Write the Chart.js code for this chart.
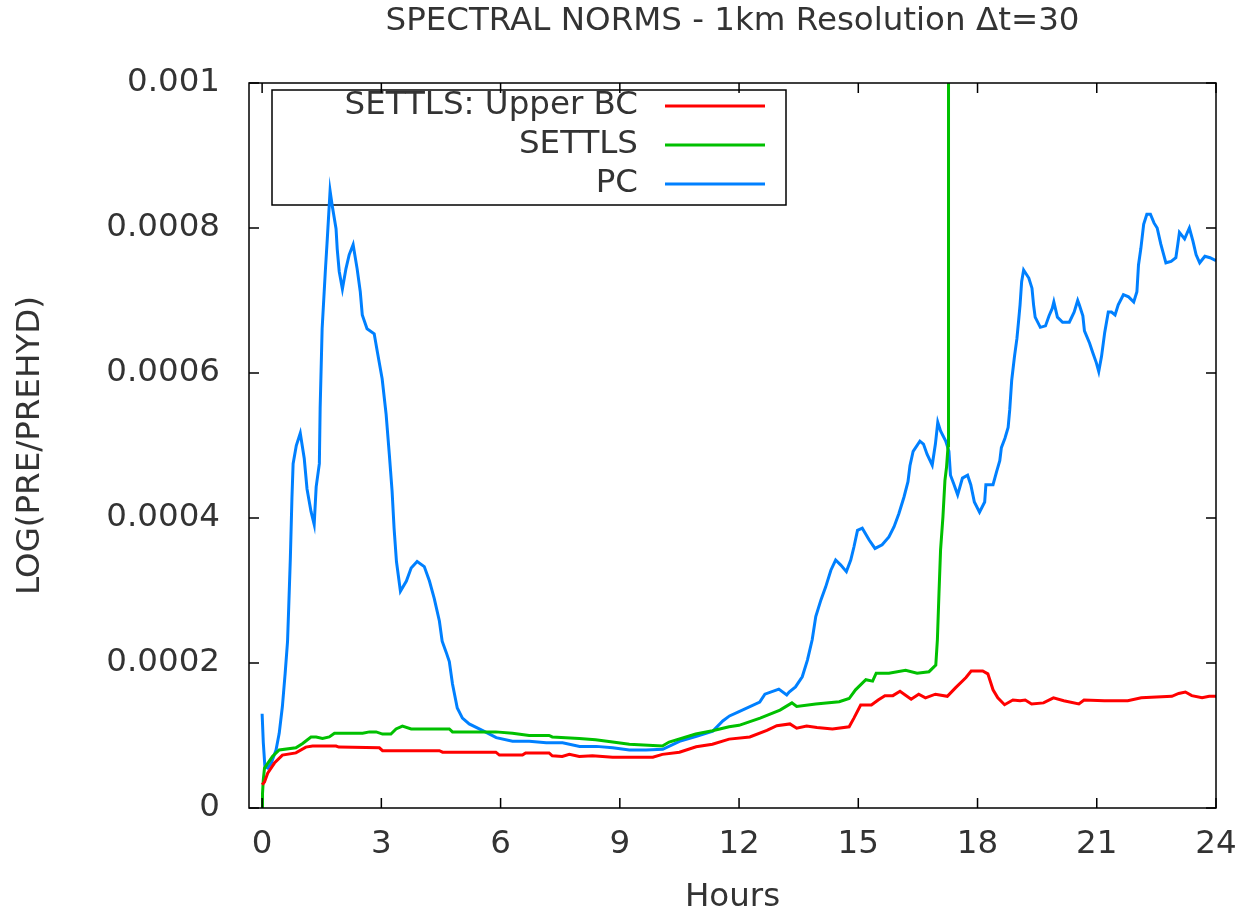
<!DOCTYPE html>
<html>
<head>
<meta charset="utf-8">
<script src="https://cdn.jsdelivr.net/npm/chart.js@4/dist/chart.umd.min.js"></script>
<style>
html,body{margin:0;padding:0;background:#fff;}
#wrap{width:1239px;height:914px;}
</style>
</head>
<body>
<div id="wrap"><canvas id="c" width="1239" height="914"></canvas></div>
<script>
// ---------------- DATA ----------------
const titleText = 'SPECTRAL NORMS - 1km Resolution \u0394t=30';
const xTitle = 'Hours';
const yTitle = 'LOG(PRE/PREHYD)';
const xTicks = [0, 3, 6, 9, 12, 15, 18, 21, 24];
const yTicks = [0, 0.0002, 0.0004, 0.0006, 0.0008, 0.001];
const yTickLabels = ['0', '0.0002', '0.0004', '0.0006', '0.0008', '0.001'];
const seriesNames = ['SETTLS: Upper BC', 'SETTLS', 'PC'];

const upperHours = [0.0,0.06,0.14,0.31,0.51,0.85,1.1,1.27,1.86,1.93,2.95,3.03,4.46,4.54,5.88,5.97,6.55,6.63,7.22,7.3,7.55,7.73,7.98,8.31,8.82,9.83,10.07,10.5,10.92,11.33,11.75,12.27,12.7,12.95,13.28,13.45,13.7,13.96,14.35,14.77,14.89,15.06,15.33,15.5,15.67,15.87,16.05,16.18,16.33,16.52,16.69,16.94,17.24,17.45,17.71,17.84,18.13,18.26,18.39,18.51,18.68,18.89,19.07,19.2,19.36,19.66,19.91,20.17,20.55,20.68,21.19,21.61,21.78,22.12,22.89,23.06,23.23,23.39,23.65,23.83,24.0];
const upperValues = [3.2e-5,3.6e-5,4.8e-5,6.2e-5,7.3e-5,7.6e-5,8.4e-5,8.55e-5,8.55e-5,8.4e-5,8.3e-5,7.9e-5,7.9e-5,7.7e-5,7.7e-5,7.3e-5,7.3e-5,7.6e-5,7.6e-5,7.2e-5,7.1e-5,7.4e-5,7.1e-5,7.2e-5,7.0e-5,7.0e-5,7.4e-5,7.7e-5,8.45e-5,8.8e-5,9.5e-5,9.8e-5,1.07e-4,1.135e-4,1.16e-4,1.10e-4,1.13e-4,1.11e-4,1.09e-4,1.12e-4,1.24e-4,1.42e-4,1.42e-4,1.49e-4,1.55e-4,1.55e-4,1.61e-4,1.56e-4,1.50e-4,1.57e-4,1.52e-4,1.57e-4,1.54e-4,1.66e-4,1.80e-4,1.89e-4,1.89e-4,1.85e-4,1.63e-4,1.52e-4,1.425e-4,1.49e-4,1.48e-4,1.49e-4,1.435e-4,1.45e-4,1.52e-4,1.48e-4,1.435e-4,1.49e-4,1.48e-4,1.48e-4,1.48e-4,1.52e-4,1.54e-4,1.58e-4,1.60e-4,1.55e-4,1.52e-4,1.54e-4,1.54e-4];

const settlsHours = [0.0,0.01,0.03,0.06,0.26,0.43,0.85,1.02,1.23,1.36,1.52,1.69,1.82,2.53,2.7,2.87,3.03,3.24,3.37,3.53,3.75,4.71,4.79,5.88,6.3,6.72,7.22,7.3,7.98,8.39,8.82,9.24,10.07,10.24,10.91,11.33,11.75,12.0,12.53,13.03,13.33,13.45,13.93,14.52,14.77,14.93,15.19,15.36,15.45,15.77,16.19,16.48,16.78,16.95,16.99,17.03,17.07,17.13,17.18,17.22,17.26,17.27];
const settlsValues = [0.0,2.0e-5,3.9e-5,5.5e-5,7.1e-5,8.0e-5,8.3e-5,8.9e-5,9.8e-5,9.8e-5,9.6e-5,9.8e-5,1.03e-4,1.03e-4,1.05e-4,1.05e-4,1.02e-4,1.02e-4,1.09e-4,1.13e-4,1.09e-4,1.09e-4,1.05e-4,1.05e-4,1.03e-4,1.0e-4,1.0e-4,9.8e-5,9.6e-5,9.4e-5,9.1e-5,8.8e-5,8.55e-5,9.1e-5,1.02e-4,1.065e-4,1.12e-4,1.14e-4,1.24e-4,1.35e-4,1.45e-4,1.40e-4,1.435e-4,1.466e-4,1.51e-4,1.63e-4,1.77e-4,1.75e-4,1.86e-4,1.86e-4,1.90e-4,1.86e-4,1.88e-4,1.97e-4,2.32e-4,2.96e-4,3.56e-4,4.02e-4,4.52e-4,4.70e-4,5.0e-4,1.5e-3];

const pcHours = [0.0,0.03,0.07,0.14,0.23,0.35,0.43,0.51,0.58,0.64,0.67,0.71,0.75,0.78,0.86,0.96,1.06,1.13,1.23,1.31,1.36,1.44,1.46,1.51,1.59,1.64,1.71,1.76,1.86,1.89,1.94,2.02,2.11,2.19,2.29,2.39,2.47,2.52,2.64,2.82,2.9,3.02,3.12,3.2,3.27,3.32,3.38,3.48,3.63,3.75,3.9,4.08,4.21,4.33,4.46,4.53,4.63,4.71,4.79,4.91,5.04,5.21,5.54,5.89,6.3,6.72,7.15,7.56,7.99,8.41,8.82,9.24,9.66,10.08,10.5,10.93,11.34,11.59,11.76,12.0,12.52,12.65,12.95,13.0,13.2,13.26,13.42,13.59,13.72,13.84,13.93,14.06,14.18,14.31,14.43,14.56,14.7,14.81,14.89,14.98,15.1,15.27,15.42,15.6,15.77,15.9,16.02,16.15,16.25,16.3,16.38,16.55,16.64,16.73,16.86,16.94,17.0,17.07,17.2,17.28,17.32,17.41,17.5,17.62,17.75,17.83,17.92,18.05,18.18,18.21,18.39,18.48,18.56,18.6,18.69,18.77,18.81,18.86,18.93,18.99,19.03,19.07,19.11,19.16,19.29,19.37,19.41,19.45,19.58,19.71,19.8,19.88,19.92,20.01,20.14,20.31,20.43,20.52,20.56,20.65,20.69,20.82,20.9,20.99,21.05,21.12,21.2,21.29,21.37,21.46,21.54,21.67,21.8,21.93,22.01,22.05,22.11,22.18,22.26,22.35,22.44,22.52,22.61,22.69,22.74,22.87,22.99,23.04,23.08,23.21,23.33,23.42,23.5,23.59,23.72,23.85,24.0];
const pcValues = [1.3e-4,9.0e-5,5.7e-5,5.5e-5,6.2e-5,8.0e-5,1.03e-4,1.40e-4,1.86e-4,2.30e-4,2.78e-4,3.44e-4,4.27e-4,4.75e-4,5.0e-4,5.17e-4,4.82e-4,4.40e-4,4.09e-4,3.91e-4,4.43e-4,4.75e-4,5.51e-4,6.61e-4,7.40e-4,7.85e-4,8.51e-4,8.32e-4,7.99e-4,7.71e-4,7.40e-4,7.16e-4,7.44e-4,7.63e-4,7.77e-4,7.44e-4,7.12e-4,6.80e-4,6.61e-4,6.54e-4,6.29e-4,5.92e-4,5.43e-4,4.88e-4,4.37e-4,3.86e-4,3.40e-4,2.99e-4,3.13e-4,3.31e-4,3.40e-4,3.33e-4,3.13e-4,2.89e-4,2.58e-4,2.30e-4,2.15e-4,2.02e-4,1.71e-4,1.38e-4,1.24e-4,1.16e-4,1.07e-4,9.7e-5,9.2e-5,9.2e-5,9.0e-5,9.0e-5,8.5e-5,8.5e-5,8.3e-5,8.0e-5,8.0e-5,8.1e-5,9.2e-5,9.9e-5,1.06e-4,1.20e-4,1.27e-4,1.33e-4,1.46e-4,1.57e-4,1.63e-4,1.64e-4,1.56e-4,1.60e-4,1.67e-4,1.81e-4,2.04e-4,2.32e-4,2.64e-4,2.87e-4,3.05e-4,3.28e-4,3.42e-4,3.35e-4,3.26e-4,3.42e-4,3.60e-4,3.83e-4,3.86e-4,3.70e-4,3.58e-4,3.63e-4,3.74e-4,3.88e-4,4.06e-4,4.29e-4,4.50e-4,4.72e-4,4.92e-4,5.06e-4,5.02e-4,4.88e-4,4.73e-4,5.02e-4,5.32e-4,5.20e-4,5.06e-4,4.92e-4,4.59e-4,4.46e-4,4.32e-4,4.55e-4,4.59e-4,4.46e-4,4.22e-4,4.08e-4,4.22e-4,4.46e-4,4.46e-4,4.64e-4,4.79e-4,4.97e-4,5.10e-4,5.25e-4,5.49e-4,5.90e-4,6.23e-4,6.47e-4,6.70e-4,6.94e-4,7.26e-4,7.42e-4,7.31e-4,7.17e-4,6.94e-4,6.77e-4,6.63e-4,6.65e-4,6.79e-4,6.89e-4,6.98e-4,6.77e-4,6.70e-4,6.70e-4,6.84e-4,7.00e-4,6.94e-4,6.79e-4,6.58e-4,6.41e-4,6.28e-4,6.14e-4,6.02e-4,6.23e-4,6.56e-4,6.84e-4,6.84e-4,6.80e-4,6.94e-4,7.08e-4,7.05e-4,6.98e-4,7.12e-4,7.49e-4,7.72e-4,8.05e-4,8.19e-4,8.19e-4,8.07e-4,8.00e-4,7.78e-4,7.62e-4,7.52e-4,7.54e-4,7.59e-4,7.78e-4,7.94e-4,7.85e-4,8.00e-4,7.82e-4,7.63e-4,7.52e-4,7.61e-4,7.59e-4,7.55e-4];

const seriesColors = ['#ff0000', '#00c000', '#0080ff'];

// ---------------- CHART ----------------
const FONT = 'DejaVu Sans';
const FS = 32.5;
const TEXT = '#333333';
const toPoints = (xs, ys) => xs.map((x, i) => ({x: x, y: ys[i]}));

const borderAndTicks = {
  id: 'borderAndTicks',
  afterDatasetsDraw(chart) {
    const {ctx, chartArea: a, scales} = chart;
    ctx.save();
    ctx.strokeStyle = '#000';
    ctx.lineWidth = 1.5;
    ctx.strokeRect(a.left, a.top, a.right - a.left, a.bottom - a.top);
    const L = 10;
    ctx.beginPath();
    xTicks.forEach(v => {
      const px = scales.x.getPixelForValue(v);
      ctx.moveTo(px, a.bottom); ctx.lineTo(px, a.bottom - L);
      ctx.moveTo(px, a.top); ctx.lineTo(px, a.top + L);
    });
    yTicks.forEach(v => {
      const py = scales.y.getPixelForValue(v);
      ctx.moveTo(a.left, py); ctx.lineTo(a.left + L, py);
      ctx.moveTo(a.right, py); ctx.lineTo(a.right - L, py);
    });
    ctx.stroke();
    ctx.restore();
  }
};

const plotTitle = {
  id: 'plotTitle',
  afterDraw(chart) {
    const {ctx, chartArea: a} = chart;
    ctx.save();
    ctx.font = FS + 'px "' + FONT + '"';
    ctx.fillStyle = TEXT;
    ctx.textAlign = 'center';
    ctx.textBaseline = 'middle';
    ctx.fillText(titleText, (a.left + a.right) / 2, 22);
    ctx.restore();
  }
};

const keyBox = {
  id: 'keyBox',
  beforeDatasetsDraw(chart) {
    const {ctx} = chart;
    const box = {l: 272, t: 90, r: 786, b: 205};
    ctx.save();
    ctx.strokeStyle = '#000';
    ctx.lineWidth = 1.5;
    ctx.strokeRect(box.l, box.t, box.r - box.l, box.b - box.t);
    ctx.font = FS + 'px "' + FONT + '"';
    ctx.fillStyle = TEXT;
    ctx.textAlign = 'right';
    ctx.textBaseline = 'middle';
    chart.data.datasets.forEach((ds, i) => {
      const y = 106 + i * 39;
      ctx.fillText(ds.label, 638, y);
      ctx.strokeStyle = ds.borderColor;
      ctx.lineWidth = 3;
      ctx.beginPath();
      ctx.moveTo(665, y); ctx.lineTo(765, y);
      ctx.stroke();
    });
    ctx.restore();
  }
};

new Chart(document.getElementById('c'), {
  type: 'line',
  data: {
    datasets: [
      {label: seriesNames[0], data: toPoints(upperHours, upperValues), borderColor: seriesColors[0]},
      {label: seriesNames[1], data: toPoints(settlsHours, settlsValues), borderColor: seriesColors[1]},
      {label: seriesNames[2], data: toPoints(pcHours, pcValues), borderColor: seriesColors[2]}
    ]
  },
  options: {
    responsive: false,
    animation: false,
    devicePixelRatio: 1,
    layout: {padding: {left: 0, right: 23, top: 83, bottom: 0}},
    elements: {
      point: {radius: 0},
      line: {borderWidth: 3, tension: 0, fill: false}
    },
    plugins: {
      legend: {display: false},
      tooltip: {enabled: false},
      title: {display: false}
    },
    scales: {
      x: {
        type: 'linear',
        min: -0.33,
        max: 24,
        afterBuildTicks: axis => { axis.ticks = xTicks.map(v => ({value: v})); },
        afterFit: axis => { axis.height = 106; axis.paddingLeft = 0; axis.paddingRight = 0; },
        grid: {display: false, drawTicks: false},
        border: {display: false},
        ticks: {
          color: TEXT, font: {family: FONT, size: FS}, padding: 17, maxRotation: 0,
          callback: v => String(v)
        },
        title: {display: true, text: xTitle, color: TEXT, font: {family: FONT, size: FS, lineHeight: 1.0}, padding: {top: 0, bottom: 0}}
      },
      y: {
        type: 'linear',
        min: 0,
        max: 0.001,
        afterBuildTicks: axis => { axis.ticks = yTicks.map(v => ({value: v})); },
        afterFit: axis => { axis.width = 249; axis.paddingTop = 0; axis.paddingBottom = 0; },
        grid: {display: false, drawTicks: false},
        border: {display: false},
        ticks: {
          color: TEXT, font: {family: FONT, size: FS}, padding: 29,
          callback: (v) => yTickLabels[yTicks.findIndex(t => Math.abs(t - v) < 1e-9)]
        },
        title: {display: true, text: yTitle, color: TEXT, font: {family: FONT, size: FS, lineHeight: 1.0}, padding: {top: 14, bottom: 0}}
      }
    }
  },
  plugins: [keyBox, borderAndTicks, plotTitle]
});
</script>
</body>
</html>
